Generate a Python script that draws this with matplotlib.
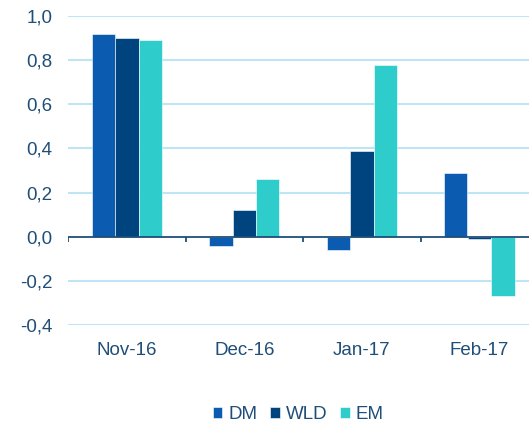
import numpy as np
import matplotlib
matplotlib.use("Agg")
import matplotlib.pyplot as plt
from matplotlib.ticker import FuncFormatter

categories = ["Nov-16", "Dec-16", "Jan-17", "Feb-17"]
series = ["DM", "WLD", "EM"]
dm = [0.92, -0.04, -0.06, 0.29]
wld = [0.90, 0.12, 0.39, -0.01]
em = [0.89, 0.26, 0.78, -0.27]
y_ticks = [-0.4, -0.2, 0.0, 0.2, 0.4, 0.6, 0.8, 1.0]

colors = ["#0B5CB1", "#00447F", "#2ECDCC"]
text_color = "#1F4E79"
grid_color = "#BDE5F6"
fs = 13.5

plt.rcParams["font.family"] = ["Liberation Sans", "DejaVu Sans"]

fig = plt.figure(figsize=(5.29, 4.30), dpi=100)
ax = fig.add_axes([68 / 529, 1 - 325 / 430, 470 / 529, 309 / 430])

x = np.arange(len(categories))
w = 0.2
for i, (name, vals) in enumerate(zip(series, [dm, wld, em])):
    ax.bar(x + (i - 1) * w, vals, width=w, color=colors[i], label=name,
           edgecolor="white", linewidth=0.4, zorder=3)

ax.set_xlim(-0.5, 3.5)
ax.set_ylim(-0.4, 1.0)

# gridlines except zero, zero line drawn as axis
for yv in y_ticks:
    if yv != 0:
        ax.axhline(yv, color=grid_color, linewidth=1.5, zorder=1)
ax.axhline(0, color="#1F4E79", linewidth=1.3, zorder=4)
ax.vlines([-0.5, 0.5, 1.5, 2.5, 3.5], -0.022, 0, color="#1F4E79",
          linewidth=1.3, zorder=4)

for s in ax.spines.values():
    s.set_visible(False)

ax.set_yticks(y_ticks)
ax.yaxis.set_major_formatter(FuncFormatter(lambda v, p: f"{v:.1f}".replace(".", ",")))
ax.set_xticks(x)
ax.set_xticklabels(categories)
ax.tick_params(axis="y", length=0, pad=11, labelsize=fs, labelcolor=text_color)
ax.tick_params(axis="x", length=0, pad=12, labelsize=fs, labelcolor=text_color)

fig.legend(loc="center", bbox_to_anchor=(0.564, 0.035), ncol=3, frameon=False,
           handlelength=0.5, handleheight=0.5, handletextpad=0.32,
           columnspacing=0.7, fontsize=fs, labelcolor=text_color)

fig.savefig("out.png", dpi=100)
